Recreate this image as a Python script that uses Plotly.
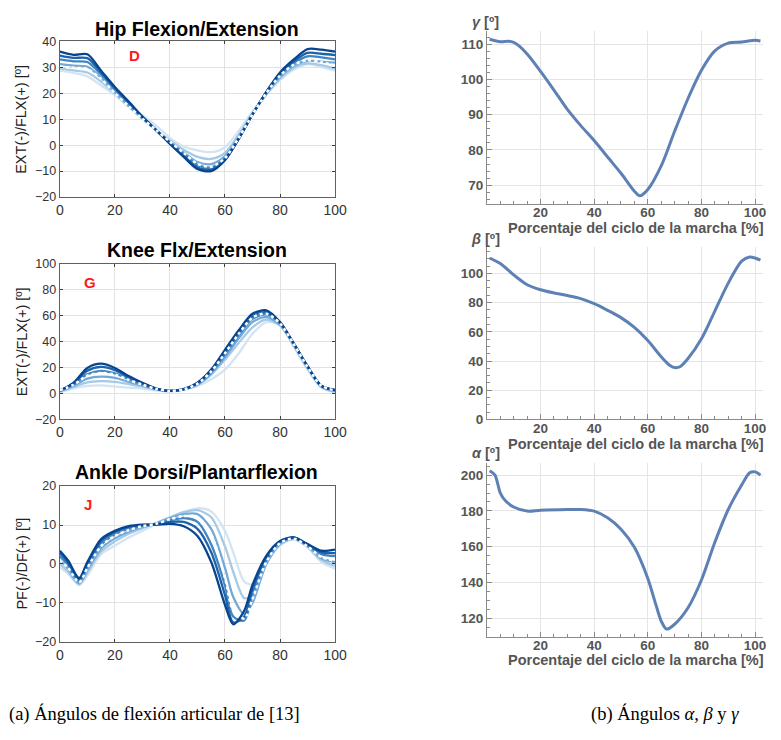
import plotly.graph_objects as go

W, H = 781, 740

# ---------------- data: left panels (gait cycle %, degrees) ----------------
pct = [0, 5, 10, 15, 20, 25, 30, 35, 40, 45, 50, 55, 60, 65, 70, 75, 80, 85, 90, 95, 100]

hip_1 = [36, 34.8, 35, 28.7, 22.4, 16.8, 11, 5.8, 0.5, -4.5, -9.2, -10.0, -5.8, 2.4, 11.8, 20.5, 28, 33, 37, 36.8, 36]
hip_2 = [34.5, 33.6, 33.5, 28, 22, 16.5, 10.8, 5.8, 0.8, -4, -8.5, -9.4, -5.5, 2.5, 11.8, 20.3, 27.5, 32.2, 35.5, 35.2, 34.7]
hip_3 = [33, 32.3, 32, 27.2, 21.5, 16, 10.6, 5.8, 1, -3.5, -7.6, -8.6, -5, 2.7, 11.8, 20, 27, 31.5, 34.2, 33.8, 33]
hip_4 = [31.2, 30.6, 30.2, 26, 20.5, 15.3, 10.3, 5.8, 1.3, -2.8, -6.5, -7.3, -4.2, 3.2, 12, 19.8, 26.3, 30.6, 32.5, 32.2, 31.8]
hip_5 = [29.5, 28.8, 28, 24.5, 19.8, 14.8, 10.2, 5.8, 1.8, -1.8, -4.5, -5.3, -3, 4, 12.3, 19.5, 25.6, 29.8, 31.5, 30.8, 29.5]
hip_6 = [28.7, 27.8, 26.5, 23, 19.3, 15, 11.5, 7.5, 2.8, -0.5, -2, -2.7, -0.8, 5.5, 13, 19.5, 25, 29, 31.2, 30, 28.7]
hip_mean = [30.2, 29.8, 29.3, 25.5, 20, 15, 10.2, 5.8, 1.3, -3, -7.2, -8.3, -5, 2.8, 11.8, 20, 26.8, 31, 32.7, 32, 30.6]

knee_1 = [2, 8.3, 19.7, 23, 19.7, 13.4, 8.3, 3.8, 2, 3.3, 8.3, 18.4, 33.6, 48.7, 61.4, 64, 55, 38.6, 21, 5.8, 2.8]
knee_2 = [2.3, 7.8, 17.5, 20.5, 18, 12.5, 7.8, 3.6, 2, 3.3, 8, 17.5, 32, 47, 59.5, 62.5, 54.5, 38.5, 21, 6, 2.6]
knee_3 = [2.5, 7, 14.8, 17.5, 15.5, 11, 7, 3.5, 2, 3.2, 7.5, 16.5, 30, 45, 57.5, 61, 54, 38, 20.5, 6, 2.4]
knee_4 = [2, 6, 11.5, 13, 12, 9, 6.2, 3.3, 2, 3.2, 7, 15.5, 28, 42.5, 55, 59, 53, 37.5, 20, 5.5, 2]
knee_5 = [1.5, 5, 8.5, 9.5, 9, 7.3, 5.3, 3, 1.8, 3.2, 6.5, 14.5, 26, 39, 51, 57, 52.5, 37, 19.5, 5, 1.5]
knee_6 = [0.8, 4, 5.8, 6.3, 5.3, 4.5, 3.8, 2.5, 1.5, 3, 5.8, 11, 18.4, 31, 46, 55, 52.5, 36, 18.4, 4.5, 0.8]
knee_mean = [2.5, 6.8, 13.8, 15.8, 14.5, 10.5, 6.8, 3.5, 2, 3.2, 7.5, 17, 31, 46, 58.5, 61.5, 54, 38, 20.5, 6, 2.4]

pct_ankle = [0, 3, 7, 10, 15, 20, 25, 30, 35, 40, 45, 50, 55, 60, 63, 67, 70, 75, 80, 85, 90, 95, 100]
ankle_1 = [3.4, 0.9, -3.6, 0.5, 6.4, 8.5, 9.7, 10.1, 10.1, 10.3, 9.7, 7.2, 0.5, -10.5, -15.5, -12, -5.4, 2.1, 5.9, 6.8, 5.1, 3.4, 3.7]
ankle_2 = [2.8, 0.3, -4.0, 0.0, 5.8, 8.2, 9.5, 10.0, 10.2, 10.8, 10.8, 9.0, 3.0, -8.0, -15.0, -13.5, -6.5, 1.6, 5.8, 6.8, 5.0, 3.0, 2.8]
ankle_3 = [2.0, -0.3, -4.4, -0.6, 5.0, 7.6, 9.0, 9.8, 10.2, 11.2, 11.8, 10.8, 5.0, -5.5, -13.5, -14.5, -8.0, 1.0, 5.6, 6.7, 4.8, 2.5, 2.0]
ankle_4 = [1.0, -1.2, -5.0, -1.6, 4.0, 6.6, 8.3, 9.5, 10.4, 11.8, 12.8, 12.8, 9.0, -1.0, -8.5, -12.8, -10.0, 0.0, 5.2, 6.5, 4.6, 1.5, 0.5]
ankle_5 = [0.0, -2.0, -5.2, -2.2, 3.2, 5.8, 7.8, 9.2, 10.5, 12.0, 13.3, 13.8, 12.0, 4.5, -2.0, -8.8, -8.0, 0.0, 5.0, 6.4, 4.4, 1.0, -0.5]
ankle_6 = [-0.8, -2.5, -5.4, -3.0, 2.5, 4.7, 6.8, 8.5, 10.3, 11.8, 13.3, 14.3, 13.5, 8.5, 3.0, -4.5, -5.2, 0.5, 4.7, 6.4, 4.3, 0.5, -1.2]
ankle_mean = [1.0, -1.0, -4.7, -1.0, 4.6, 7.2, 8.7, 9.7, 10.3, 11.5, 12.3, 12.0, 7.5, -3.5, -12.0, -14.0, -9.0, 0.5, 5.4, 6.5, 4.5, 1.8, 0.8]

# ---------------- data: right panels ----------------
gamma_x = [1, 5, 8, 10, 12, 15, 20, 25, 30, 35, 40, 45, 50, 55, 57, 60, 65, 70, 75, 80, 85, 90, 95, 100, 102]
gamma_y = [111.4, 110.7, 110.8, 110.5, 109.5, 107.2, 102.3, 97, 91.5, 86.9, 82.7, 78, 73.4, 68.3, 67, 68.8, 75.5, 85.3, 94.6, 102.6, 108.1, 110.3, 110.6, 111.1, 110.9]

beta_x = [1, 5, 10, 15, 20, 25, 30, 35, 40, 45, 50, 55, 60, 65, 68, 70, 72, 75, 80, 85, 90, 95, 98, 100, 102]
beta_y = [110.5, 106.7, 98.9, 92.2, 88.8, 86.6, 84.8, 82.7, 79.2, 74.7, 69.7, 63, 54, 42.9, 37.3, 35.5, 36.1, 41.7, 55.2, 74.2, 93.3, 108.3, 111.2, 110.5, 109]

alpha_x = [1, 3, 5, 7, 10, 15, 20, 30, 35, 40, 45, 50, 55, 60, 63, 65, 67, 70, 75, 80, 85, 90, 95, 98, 100, 102]
alpha_y = [202.4, 200, 190, 185.5, 182.2, 179.9, 180.4, 180.8, 180.8, 179.9, 176.2, 169.8, 159.7, 142.3, 127.7, 118.5, 114, 116.7, 125.9, 141.4, 162.5, 180.8, 194.5, 201.3, 201.8, 200]

left_titles = ["Hip Flexion/Extension", "Knee Flx/Extension", "Ankle Dorsi/Plantarflexion"]
left_letters = ["D", "G", "J"]
left_ytitles = ["EXT(-)/FLX(+) [º]", "EXT(-)/FLX(+) [º]", "PF(-)/DF(+) [º]"]
right_labels = ["γ [º]", "β [º]", "α [º]"]
xlabel_right = "Porcentaje del ciclo de la marcha [%]"
caption_a = "(a) Ángulos de flexión articular de [13]"
caption_b = "(b) Ángulos <i>α</i>, <i>β</i> y <i>γ</i>"

# ---------------- styling / layout ----------------
blues = ["#d3e4f3", "#a6c9e6", "#72a9d6", "#3f86c2", "#1f62a8", "#08458f"]
sans = "Liberation Sans, Arial, Helvetica, sans-serif"
serif = "Liberation Serif, Times New Roman, serif"

def px_x(p):
    return p / W

def px_y(p):
    return 1 - p / H

fig = go.Figure()

left_sets = [
    (pct, [hip_6, hip_5, hip_4, hip_3, hip_2, hip_1], hip_mean),
    (pct, [knee_6, knee_5, knee_4, knee_3, knee_2, knee_1], knee_mean),
    (pct_ankle, [ankle_6, ankle_5, ankle_4, ankle_3, ankle_2, ankle_1], ankle_mean),
]
left_ranges = [[-20, 40], [-20, 100], [-20, 20]]
left_dticks = [10, 20, 10]
left_pix = [(35, 194), (262, 421), (489, 648)]
title_y = [22, 248, 475]
letter_pos = [(133, 50), (88, 281), (86, 508)]

for i, (xs, series, mean) in enumerate(left_sets):
    ax = i + 1
    xa = "x" if ax == 1 else f"x{ax}"
    ya = "y" if ax == 1 else f"y{ax}"
    for c, s in zip(blues, series):
        fig.add_trace(go.Scatter(x=xs, y=s, mode="lines", xaxis=xa, yaxis=ya,
                                 line=dict(color=c, width=2.3, shape="spline", smoothing=0.8),
                                 showlegend=False, hoverinfo="skip"))
    fig.add_trace(go.Scatter(x=xs, y=mean, mode="lines", xaxis=xa, yaxis=ya,
                             line=dict(color="white", width=2.5, dash="dot", shape="spline", smoothing=0.8),
                             showlegend=False, hoverinfo="skip"))
    top, bot = left_pix[i]
    common = dict(showgrid=True, gridcolor="#e2e2e2", gridwidth=1, showline=True, linecolor="#606060",
                  linewidth=1.3, mirror="ticks", ticks="inside", ticklen=3, tickcolor="#404040",
                  zeroline=False)
    fig.layout[f"xaxis{'' if ax == 1 else ax}"] = dict(domain=[px_x(57), px_x(338)], range=[0, 100], dtick=20,
                                                       anchor=ya, tickfont=dict(family=sans, size=14, color="#333333"),
                                                       **common)
    fig.layout[f"yaxis{'' if ax == 1 else ax}"] = dict(domain=[px_y(bot), px_y(top)], range=left_ranges[i],
                                                       dtick=left_dticks[i], anchor=xa,
                                                       tickfont=dict(family=sans, size=12.5, color="#333333"),
                                                       **common)
    fig.add_annotation(x=px_x(197), y=px_y(title_y[i]), xref="paper", yref="paper", text=f"<b>{left_titles[i]}</b>",
                       showarrow=False, font=dict(family=sans, size=19.5, color="black"), xanchor="center",
                       yanchor="middle")
    fig.add_annotation(x=px_x(letter_pos[i][0]), y=px_y(letter_pos[i][1]), xref="paper", yref="paper",
                       text=f"<b>{left_letters[i]}</b>", showarrow=False,
                       font=dict(family=sans, size=15, color="#ff1a1a"), xanchor="center", yanchor="middle")
    fig.add_annotation(x=px_x(18), y=px_y((top + bot) / 2), xref="paper", yref="paper", text=left_ytitles[i],
                       textangle=-90, showarrow=False, font=dict(family=sans, size=14.5, color="#222222"),
                       xanchor="center", yanchor="middle")

# right panels
right_sets = [(gamma_x, gamma_y), (beta_x, beta_y), (alpha_x, alpha_y)]
right_ranges = [[64.7, 113.6], [0, 118], [109.6, 207]]
right_dticks = [10, 20, 20]
right_minor = [2, 5, 5]
right_pix = [(25, 201), (245, 421), (465, 643)]
label_y = [15, 237, 455]
xlabel_y = [226, 446, 666]
for j, (xs, ys) in enumerate(right_sets):
    ax = j + 4
    xa, ya = f"x{ax}", f"y{ax}"
    fig.add_trace(go.Scatter(x=xs, y=ys, mode="lines", xaxis=xa, yaxis=ya,
                             line=dict(color="#5e81b5", width=3, shape="spline", smoothing=0.8),
                             showlegend=False, hoverinfo="skip"))
    top, bot = right_pix[j]
    common = dict(showgrid=True, gridcolor="#e4e4e4", gridwidth=1, showline=True, linecolor="#8a8a8a",
                  linewidth=1, mirror=False, ticks="inside", ticklen=5, tickcolor="#8a8a8a", zeroline=False,
                  tickfont=dict(family=sans, size=13.5, color="#555555", weight="bold"))
    fig.layout[f"xaxis{ax}"] = dict(domain=[px_x(493), px_x(775)], range=[0, 103], tickvals=[20, 40, 60, 80, 100],
                                    anchor=ya, minor=dict(dtick=5, ticklen=3, tickcolor="#8a8a8a", ticks="inside",
                                                          showgrid=False), **common)
    fig.layout[f"yaxis{ax}"] = dict(domain=[px_y(bot), px_y(top)], range=right_ranges[j], dtick=right_dticks[j],
                                    anchor=xa, minor=dict(dtick=right_minor[j], ticklen=3, tickcolor="#8a8a8a",
                                                          ticks="inside", showgrid=False), **common)
    try:
        fig.layout[f"xaxis{ax}"].ticklabelstandoff = -4
    except Exception:
        pass
    fig.add_annotation(x=px_x(492), y=px_y(label_y[j]), xref="paper", yref="paper",
                       text=f"<b><i>{right_labels[j][0]}</i>{right_labels[j][1:]}</b>", showarrow=False,
                       font=dict(family=sans, size=14.5, color="#555555"), xanchor="center", yanchor="middle")
    fig.add_annotation(x=px_x(778), y=px_y(xlabel_y[j]), xref="paper", yref="paper", text=f"<b>{xlabel_right}</b>",
                       showarrow=False, font=dict(family=sans, size=14.5, color="#555555"), xanchor="right",
                       yanchor="middle")

# captions
fig.add_annotation(x=px_x(154), y=px_y(722), xref="paper", yref="paper", text=caption_a, showarrow=False,
                   font=dict(family=serif, size=18.5, color="black"), xanchor="center", yanchor="middle")
fig.add_annotation(x=px_x(675), y=px_y(722), xref="paper", yref="paper", text=caption_b, showarrow=False,
                   font=dict(family=serif, size=18.5, color="black"), xanchor="center", yanchor="middle")

fig.update_layout(width=W, height=H, margin=dict(l=0, r=0, t=0, b=0), paper_bgcolor="white",
                  plot_bgcolor="white", showlegend=False)

fig.write_html("out.html", config={"displayModeBar": False},
               post_script="document.body.style.margin='0px';")
